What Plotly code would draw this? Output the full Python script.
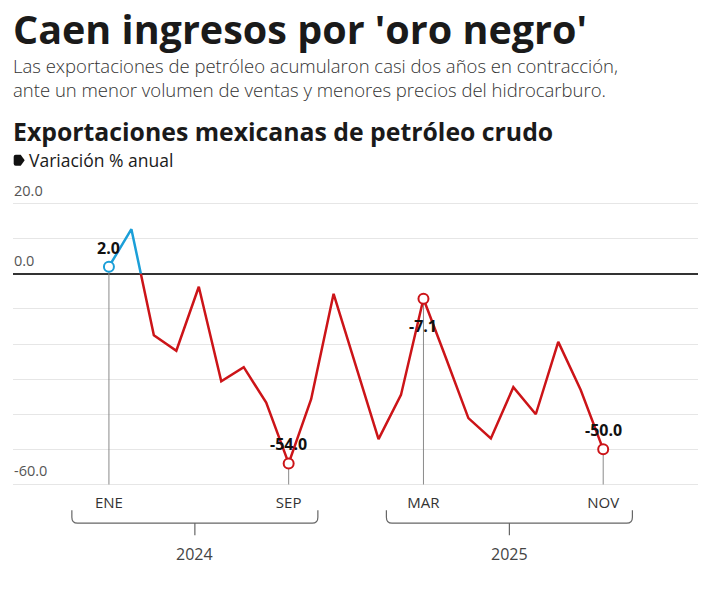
import plotly.graph_objects as go

# Exportaciones mexicanas de petróleo crudo, variación % anual
meses = ["ENE", "FEB", "MAR", "ABR", "MAY", "JUN", "JUL", "AGO", "SEP", "OCT", "NOV", "DIC",
         "ENE", "FEB", "MAR", "ABR", "MAY", "JUN", "JUL", "AGO", "SEP", "OCT", "NOV"]
anios = ["2024"] * 12 + ["2025"] * 11
variacion = [2.0, 12.7, -17.5, -21.9, -3.7, -30.6, -26.6, -36.7, -54.0, -35.7, -5.7, -26.5,
             -47.1, -34.5, -7.1, -24.0, -41.1, -46.9, -32.3, -40.0, -19.4, -33.1, -50.0]

# puntos con etiqueta (índices de mes)
destacados = [0, 8, 14, 22]
etiqueta_arriba = [True, True, False, True]

y_ticks = [20, 0, -60]
y_ticktext = ["20.0", "0.0", "-60.0"]

AZUL = "#1b9fd8"
ROJO = "#cc1418"
FUENTE = "Open Sans"

W, H = 712, 589
TOP, BOT = 199.8, 487.8          # area del grafico en pixeles
LEFT, RIGHT = 13.3, 698.3
Y_MIN, Y_MAX = -61, 21
d0 = (0 - Y_MIN) / (Y_MAX - Y_MIN)


def py(px):
    # pixel vertical -> coordenada paper
    return (BOT - px) / (BOT - TOP)


def pxx(px):
    # pixel horizontal -> coordenada paper
    return (px - LEFT) / (RIGHT - LEFT)


x = list(range(len(variacion)))

fig = go.Figure()

# linea roja (parte negativa) y azul (parte positiva), recortadas por su subplot
fig.add_trace(go.Scatter(x=x, y=variacion, mode="lines", yaxis="y3",
                         line=dict(color=ROJO, width=2.5)))
fig.add_trace(go.Scatter(x=x, y=variacion, mode="lines", yaxis="y2",
                         line=dict(color=AZUL, width=2.5)))

# lineas verticales de los puntos destacados
for i in destacados:
    fig.add_trace(go.Scatter(x=[i, i], y=[variacion[i], -60], mode="lines",
                             line=dict(color="#8a8a8a", width=1)))

# marcadores
neg = [i for i in destacados if variacion[i] < 0]
pos = [i for i in destacados if variacion[i] >= 0]
fig.add_trace(go.Scatter(x=neg, y=[variacion[i] for i in neg], mode="markers", yaxis="y3",
                         marker=dict(size=10, color="white", line=dict(color=ROJO, width=2))))
fig.add_trace(go.Scatter(x=pos, y=[variacion[i] for i in pos], mode="markers", yaxis="y2",
                         marker=dict(size=10, color="white", line=dict(color=AZUL, width=2))))

for i, arriba in zip(destacados, etiqueta_arriba):
    fig.add_annotation(x=i, y=variacion[i], xref="x", yref="y", text=f"{variacion[i]:.1f}",
                       showarrow=False, yshift=19 if arriba else -27,
                       font=dict(family=FUENTE, size=16, color="#111", weight=700))

# etiquetas del eje y, encima de la cuadricula
for v, t in zip(y_ticks, y_ticktext):
    fig.add_annotation(x=0, xref="paper", y=v, yref="y", text=t, showarrow=False,
                       xanchor="left", yanchor="bottom", yshift=2, xshift=-1,
                       font=dict(family=FUENTE, size=14.5, color="#555"))

# llaves de los años
for anio in ["2024", "2025"]:
    idx = [i for i in destacados if anios[i] == anio]
    a, b = idx[0] - 1.65, idx[-1] + 1.3
    yt, yb, yc = py(510), py(523), py(535)
    rx, ry = 0.25, py(517) - py(523)
    c = (a + b) / 2
    path = (f"M {a},{yt} L {a},{yb + ry} Q {a},{yb} {a + rx},{yb} "
            f"L {b - rx},{yb} Q {b},{yb} {b},{yb + ry} L {b},{yt} "
            f"M {c},{yb} L {c},{yc}")
    fig.add_shape(type="path", xref="x", yref="paper", path=path,
                  line=dict(color="#666", width=1.2))
    fig.add_annotation(x=c, xref="x", y=py(554), yref="paper", yanchor="middle",
                       text=anio, showarrow=False,
                       font=dict(family=FUENTE, size=16, color="#444"))

# titulos
fig.add_annotation(x=0, xref="paper", y=py(29), yref="paper", xanchor="left",
                   yanchor="middle", xshift=-2,
                   text="Caen ingresos por 'oro negro'", showarrow=False,
                   font=dict(family=FUENTE, size=39.5, color="#1a1a1a", weight=700))
fig.add_annotation(x=0, xref="paper", y=py(77), yref="paper", xanchor="left",
                   yanchor="middle", align="left", xshift=-2,
                   text="Las exportaciones de petróleo acumularon casi dos años en contracción,"
                        "<br>ante un menor volumen de ventas y menores precios del hidrocarburo.",
                   showarrow=False,
                   font=dict(family=FUENTE, size=18.5, color="#333", weight=300))
fig.add_annotation(x=0, xref="paper", y=py(131), yref="paper", xanchor="left",
                   yanchor="middle", xshift=-2,
                   text="Exportaciones mexicanas de petróleo crudo", showarrow=False,
                   font=dict(family=FUENTE, size=24.8, color="#1a1a1a", weight=700))
fig.add_annotation(x=0, xref="paper", y=py(160), yref="paper", xanchor="left",
                   yanchor="middle", xshift=14,
                   text="Variación % anual", showarrow=False,
                   font=dict(family=FUENTE, size=17.5, color="#1a1a1a"))
fig.add_shape(type="path", xref="paper", yref="paper",
              path=(f"M {pxx(16)},{py(154.5)} L {pxx(21)},{py(154.5)} "
                    f"L {pxx(25)},{py(160)} L {pxx(21)},{py(165.5)} "
                    f"L {pxx(16)},{py(165.5)} Q {pxx(14)},{py(165.5)} {pxx(14)},{py(163.5)} "
                    f"L {pxx(14)},{py(156.5)} Q {pxx(14)},{py(154.5)} {pxx(16)},{py(154.5)} Z"),
              fillcolor="#111", line=dict(width=0))

fig.update_layout(
    width=W, height=H,
    margin=dict(l=LEFT, r=W - RIGHT, t=TOP, b=H - BOT),
    paper_bgcolor="white", plot_bgcolor="rgba(0,0,0,0)",
    showlegend=False, hovermode=False,
    xaxis=dict(range=[-4.27, 26.22], showgrid=False, zeroline=False,
               tickvals=destacados, ticktext=[meses[i] for i in destacados],
               ticks="", ticklabelstandoff=4,
               tickfont=dict(family=FUENTE, size=15, color="#333")),
    yaxis=dict(range=[Y_MIN, Y_MAX], dtick=10, tick0=0, showticklabels=False,
               gridcolor="#e6e6e6", gridwidth=1,
               zeroline=True, zerolinecolor="#333", zerolinewidth=2),
    yaxis2=dict(range=[0, Y_MAX], domain=[d0, 1], visible=False, anchor="x"),
    yaxis3=dict(range=[Y_MIN, 0], domain=[0, d0], visible=False, anchor="x"),
)

# sin margen en el body para que la figura ocupe toda la ventana
fig.write_html("out.html", config={"displayModeBar": False},
               post_script="document.body.style.margin = '0';")
